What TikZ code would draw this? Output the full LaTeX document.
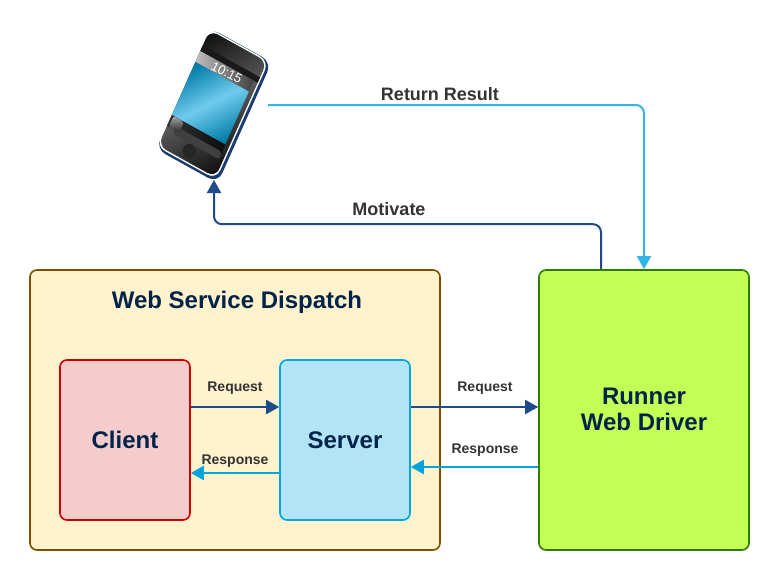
\documentclass[tikz,border=0pt]{standalone}
\usepackage{fontspec}
\setmainfont{Liberation Sans}
\usetikzlibrary{arrows.meta}
\definecolor{titleink}{HTML}{00234B}
\definecolor{labelink}{HTML}{333333}
\definecolor{reqblue}{HTML}{1F4A8C}
\definecolor{respblue}{HTML}{00A5DF}
\definecolor{retblue}{HTML}{33B5E5}
\definecolor{dispatchfill}{HTML}{FFF2CC}
\definecolor{dispatchline}{HTML}{7F4F00}
\definecolor{clientfill}{HTML}{F4CCCC}
\definecolor{clientline}{HTML}{CC0000}
\definecolor{serverfill}{HTML}{B1E5F5}
\definecolor{driverfill}{HTML}{C3FF55}
\definecolor{driverline}{HTML}{2D7F00}
\begin{document}
\begin{tikzpicture}[
        x=1pt, y=-1pt,
        box/.style={draw, line width=1.6pt, rounded corners=7pt, inner sep=0pt, text=titleink, font=\bfseries\fontsize{24}{26}\selectfont},
        lbl/.style={text=labelink, inner sep=0pt, font=\bfseries\fontsize{14}{16}\selectfont},
        biglbl/.style={lbl, font=\bfseries\fontsize{18}{20}\selectfont},
        req/.style={draw=reqblue, line width=2pt, -{Triangle[length=13pt,width=14pt]}},
        resp/.style={draw=respblue, line width=2pt, -{Triangle[length=13pt,width=14pt]}},
    ]
    \useasboundingbox (0,0) rectangle (769,570);
    \node[box, draw=dispatchline, fill=dispatchfill, minimum width=410pt, minimum height=280pt](dispatch) at (235,410){};
    \node[lbl, text=titleink, font=\bfseries\fontsize{24}{26}\selectfont](title) at (237,302){Web Service Dispatch};
    \node[box, draw=clientline, fill=clientfill, minimum width=130pt, minimum height=160pt](client) at (125,440){Client};
    \node[box, draw=respblue, fill=serverfill, minimum width=130pt, minimum height=160pt](server) at (345,440){Server};
    \node[box, draw=driverline, fill=driverfill, minimum width=210pt, minimum height=280pt](driver) at (644,410){};
    \node[lbl, text=titleink, align=center, font=\bfseries\fontsize{24}{26}\selectfont](driverlbl) at (644,409){Runner\\Web Driver};

    \begin{scope}[shift={(212.5,104.5)}, cm={0.875,-0.485,0.407,0.914,(0,0)}]
        \fill[rounded corners=11pt, fill=reqblue!80!black] (-34,-66) rectangle (37,66.5);
        \fill[rounded corners=10pt, fill=white] (-34.5,-65.5) rectangle (34,64);
        \shade[rounded corners=9pt, left color=black!95, right color=black!95, middle color=black!65, shading angle=27] (-33,-64) rectangle (32.5,62.5);
        \fill[black!90] (-33,-47) rectangle (32.5,-41);
        \shade[left color=black!25, right color=black!75] (-33,-41) rectangle (28,-29);
        \shade[top color=respblue!75!black, bottom color=respblue!75!black, middle color=retblue!70!white, shading angle=27] (-33,-29) rectangle (28,29);
        \shade[left color=black!80, right color=black!95] (-33,29) rectangle (28,41);
        \fill[rounded corners=2pt, black!75] (-24,37) rectangle (28,45);
        \shade[rounded corners=2pt, top color=black!35, bottom color=black!85] (-31,29) rectangle (-19,41);
        \fill[black!85] (-2,52) circle (7);
        \node[text=white, inner sep=0pt, rotate=-27, font=\fontsize{13}{15}\selectfont](clock) at (0,-35){10:15};
    \end{scope}
    \coordinate (phoneout) at (268,105);
    \coordinate (phonein) at (214,180);

    \draw[draw=retblue, line width=2pt, -{Triangle[length=13pt,width=14pt]}, rounded corners=8pt] (phoneout) -| (driver.north);
    \draw[req, rounded corners=8pt] ([xshift=-43pt]driver.north) -- ++(0,-45) -| (phonein);
    \draw[req] (client.east |- 0,407) -- (server.west |- 0,407);
    \draw[resp] (server.west |- 0,473) -- (client.east |- 0,473);
    \draw[req] (server.east |- 0,407) -- (driver.west |- 0,407);
    \draw[resp] (driver.west |- 0,467) -- (server.east |- 0,467);

    \node[biglbl](retlbl) at (440,94){Return Result};
    \node[biglbl](motlbl) at (389,209){Motivate};
    \node[lbl](reqa) at (235,388){Request};
    \node[lbl](respa) at (235,461){Response};
    \node[lbl](reqb) at (485,388){Request};
    \node[lbl](respb) at (485,450){Response};
\end{tikzpicture}
\end{document}
